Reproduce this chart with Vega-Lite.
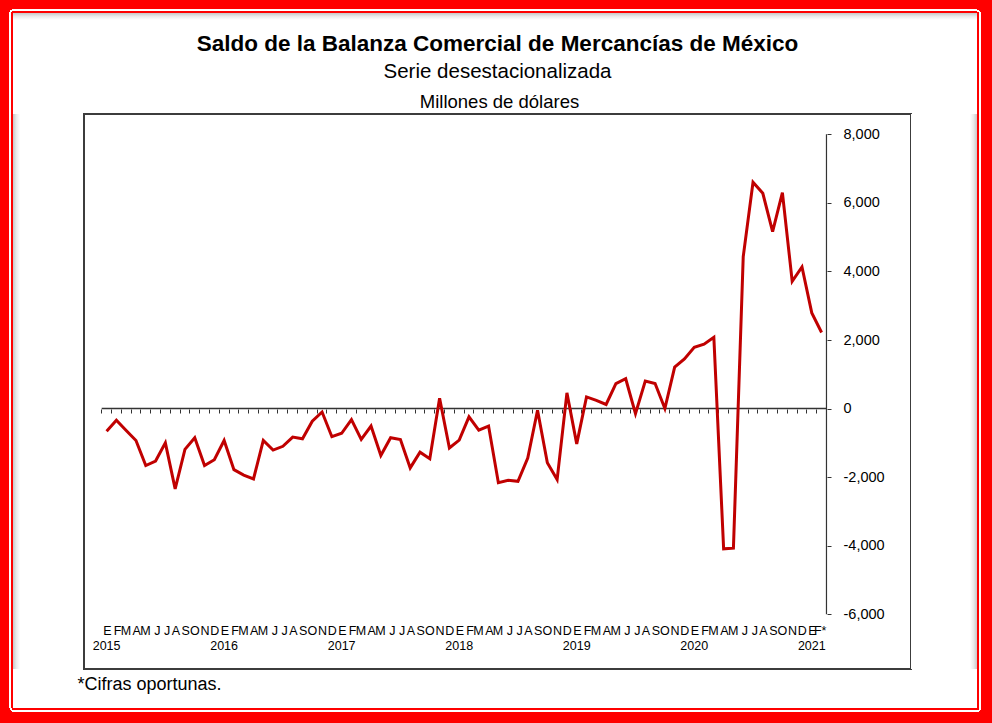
{
  "$schema": "https://vega.github.io/schema/vega-lite/v6.json",
  "background": "white",
  "padding": 0,
  "columns": 5,
  "spacing": 0,
  "bounds": "flush",
  "align": "each",
  "config": {
    "view": {"stroke": null},
    "font": "Liberation Sans"
  },
  "concat": [
    {"width": 13, "height": 13, "data": {"values": []}, "mark": "point", "view": {"stroke": null, "fill": {"gradient": "radial", "x1": 1, "y1": 1, "r1": 0, "x2": 1, "y2": 1, "r2": 1, "stops": [{"offset": 0, "color": "#ff0000"}, {"offset": 0.155, "color": "#ff0000"}, {"offset": 0.155, "color": "#ffffff"}, {"offset": 0.275, "color": "#ffffff"}, {"offset": 0.275, "color": "#ff0000"}, {"offset": 1, "color": "#ff0000"}]}}},
    {"width": 71, "height": 13, "data": {"values": []}, "mark": "point", "view": {"stroke": null, "fill": {"gradient": "linear", "x1": 0, "y1": 0, "x2": 0, "y2": 1, "stops": [{"offset": 0, "color": "#ff0000"}, {"offset": 0.72, "color": "#ff0000"}, {"offset": 0.72, "color": "#ffffff"}, {"offset": 0.84, "color": "#ffffff"}, {"offset": 0.84, "color": "#ff0000"}, {"offset": 1, "color": "#ff0000"}]}}},
    {"width": 827, "height": 13, "data": {"values": []}, "mark": "point", "view": {"stroke": null, "fill": {"gradient": "linear", "x1": 0, "y1": 0, "x2": 0, "y2": 1, "stops": [{"offset": 0, "color": "#ff0000"}, {"offset": 0.72, "color": "#ff0000"}, {"offset": 0.72, "color": "#ffffff"}, {"offset": 0.84, "color": "#ffffff"}, {"offset": 0.84, "color": "#ff0000"}, {"offset": 1, "color": "#ff0000"}]}}},
    {"width": 66, "height": 13, "data": {"values": []}, "mark": "point", "view": {"stroke": null, "fill": {"gradient": "linear", "x1": 0, "y1": 0, "x2": 0, "y2": 1, "stops": [{"offset": 0, "color": "#ff0000"}, {"offset": 0.72, "color": "#ff0000"}, {"offset": 0.72, "color": "#ffffff"}, {"offset": 0.84, "color": "#ffffff"}, {"offset": 0.84, "color": "#ff0000"}, {"offset": 1, "color": "#ff0000"}]}}},
    {"width": 15, "height": 13, "data": {"values": []}, "mark": "point", "view": {"stroke": null, "fill": {"gradient": "radial", "x1": 0, "y1": 1, "r1": 0, "x2": 0, "y2": 1, "r2": 1, "stops": [{"offset": 0, "color": "#ff0000"}, {"offset": 0.155, "color": "#ff0000"}, {"offset": 0.155, "color": "#ffffff"}, {"offset": 0.275, "color": "#ffffff"}, {"offset": 0.275, "color": "#ff0000"}, {"offset": 1, "color": "#ff0000"}]}}},

    {"width": 13, "height": 101, "data": {"values": []}, "mark": "point", "view": {"stroke": null, "fill": {"gradient": "linear", "x1": 0, "y1": 0, "x2": 1, "y2": 0, "stops": [{"offset": 0, "color": "#ff0000"}, {"offset": 0.72, "color": "#ff0000"}, {"offset": 0.72, "color": "#ffffff"}, {"offset": 0.84, "color": "#ffffff"}, {"offset": 0.84, "color": "#ff0000"}, {"offset": 1, "color": "#ff0000"}]}}},
    {"width": 71, "height": 101, "data": {"values": []}, "mark": "point", "view": {"stroke": null, "fill": {"gradient": "linear", "x1": 0, "y1": 0, "x2": 0, "y2": 1, "stops": [{"offset": 0, "color": "#c8c8c8"}, {"offset": 0.035, "color": "#ebebeb"}, {"offset": 0.07, "color": "#ffffff"}, {"offset": 1, "color": "#ffffff"}]}}},
    {"width": 827, "height": 101, "data": {"values": []}, "mark": "point", "view": {"stroke": null, "fill": {"gradient": "linear", "x1": 0, "y1": 0, "x2": 0, "y2": 1, "stops": [{"offset": 0, "color": "#c8c8c8"}, {"offset": 0.035, "color": "#ebebeb"}, {"offset": 0.07, "color": "#ffffff"}, {"offset": 1, "color": "#ffffff"}]}}},
    {"width": 66, "height": 101, "data": {"values": []}, "mark": "point", "view": {"stroke": null, "fill": {"gradient": "linear", "x1": 0, "y1": 0, "x2": 0, "y2": 1, "stops": [{"offset": 0, "color": "#c8c8c8"}, {"offset": 0.035, "color": "#ebebeb"}, {"offset": 0.07, "color": "#ffffff"}, {"offset": 1, "color": "#ffffff"}]}}},
    {"width": 15, "height": 101, "data": {"values": []}, "mark": "point", "view": {"stroke": null, "fill": {"gradient": "linear", "x1": 1, "y1": 0, "x2": 0, "y2": 0, "stops": [{"offset": 0, "color": "#ff0000"}, {"offset": 0.72, "color": "#ff0000"}, {"offset": 0.72, "color": "#ffffff"}, {"offset": 0.84, "color": "#ffffff"}, {"offset": 0.84, "color": "#ff0000"}, {"offset": 1, "color": "#ff0000"}]}}},

    {"width": 13, "height": 555, "data": {"values": []}, "mark": "point", "view": {"stroke": null, "fill": {"gradient": "linear", "x1": 0, "y1": 0, "x2": 1, "y2": 0, "stops": [{"offset": 0, "color": "#ff0000"}, {"offset": 0.72, "color": "#ff0000"}, {"offset": 0.72, "color": "#ffffff"}, {"offset": 0.84, "color": "#ffffff"}, {"offset": 0.84, "color": "#ff0000"}, {"offset": 1, "color": "#ff0000"}]}}},
    {"width": 71, "height": 555, "data": {"values": []}, "mark": "point", "view": {"stroke": null, "fill": {"gradient": "linear", "x1": 0, "y1": 0, "x2": 1, "y2": 0, "stops": [{"offset": 0, "color": "#c8c8c8"}, {"offset": 0.05, "color": "#ebebeb"}, {"offset": 0.1, "color": "#ffffff"}, {"offset": 1, "color": "#ffffff"}]}}},
    {
      "width": 827,
      "height": 555,
      "view": {"stroke": "#3c3c3c", "strokeWidth": 2, "fill": "white"},
      "title": {
        "text": "Saldo de la Balanza Comercial de Mercancías de México",
        "subtitle": "Serie desestacionalizada",
        "frame": "group",
        "anchor": "middle",
        "fontSize": 22.5,
        "fontWeight": "bold",
        "color": "black",
        "subtitleFontSize": 20.5,
        "subtitleColor": "black",
        "subtitlePadding": 6,
        "offset": 10
      },
      "layer": [
        {
          "data": {"values": [{}]},
          "mark": {"type": "rule", "color": "#333333", "strokeWidth": 1.5},
          "encoding": {
            "x": {"datum": "2015-01", "type": "ordinal", "bandPosition": 0},
            "x2": {"datum": "2021-02", "bandPosition": 1},
            "y": {"datum": 0, "type": "quantitative"}
          }
        },
        {
          "data": {"values": [{}]},
          "mark": {"type": "rule", "color": "#333333", "strokeWidth": 1.2},
          "encoding": {
            "x": {"datum": "2021-02", "type": "ordinal", "bandPosition": 1},
            "y": {"datum": -6000, "type": "quantitative"},
            "y2": {"datum": 8000}
          }
        },
        {
          "data": {
            "values": [
              {"m": "2015-01", "v": -660}, {"m": "2015-02", "v": -340}, {"m": "2015-03", "v": -640}, {"m": "2015-04", "v": -930},
              {"m": "2015-05", "v": -1660}, {"m": "2015-06", "v": -1530}, {"m": "2015-07", "v": -1000}, {"m": "2015-08", "v": -2340},
              {"m": "2015-09", "v": -1190}, {"m": "2015-10", "v": -850}, {"m": "2015-11", "v": -1660}, {"m": "2015-12", "v": -1490},
              {"m": "2016-01", "v": -930}, {"m": "2016-02", "v": -1780}, {"m": "2016-03", "v": -1940}, {"m": "2016-04", "v": -2050},
              {"m": "2016-05", "v": -930}, {"m": "2016-06", "v": -1210}, {"m": "2016-07", "v": -1100}, {"m": "2016-08", "v": -830},
              {"m": "2016-09", "v": -880}, {"m": "2016-10", "v": -370}, {"m": "2016-11", "v": -100}, {"m": "2016-12", "v": -820},
              {"m": "2017-01", "v": -720}, {"m": "2017-02", "v": -320}, {"m": "2017-03", "v": -900}, {"m": "2017-04", "v": -510},
              {"m": "2017-05", "v": -1370}, {"m": "2017-06", "v": -850}, {"m": "2017-07", "v": -900}, {"m": "2017-08", "v": -1730},
              {"m": "2017-09", "v": -1270}, {"m": "2017-10", "v": -1460}, {"m": "2017-11", "v": 300}, {"m": "2017-12", "v": -1150},
              {"m": "2018-01", "v": -920}, {"m": "2018-02", "v": -240}, {"m": "2018-03", "v": -630}, {"m": "2018-04", "v": -510},
              {"m": "2018-05", "v": -2160}, {"m": "2018-06", "v": -2090}, {"m": "2018-07", "v": -2120}, {"m": "2018-08", "v": -1440},
              {"m": "2018-09", "v": -50}, {"m": "2018-10", "v": -1580}, {"m": "2018-11", "v": -2070}, {"m": "2018-12", "v": 460},
              {"m": "2019-01", "v": -1030}, {"m": "2019-02", "v": 340}, {"m": "2019-03", "v": 240}, {"m": "2019-04", "v": 120},
              {"m": "2019-05", "v": 730}, {"m": "2019-06", "v": 870}, {"m": "2019-07", "v": -150}, {"m": "2019-08", "v": 800},
              {"m": "2019-09", "v": 730}, {"m": "2019-10", "v": 0}, {"m": "2019-11", "v": 1210}, {"m": "2019-12", "v": 1450},
              {"m": "2020-01", "v": 1790}, {"m": "2020-02", "v": 1880}, {"m": "2020-03", "v": 2080}, {"m": "2020-04", "v": -4090},
              {"m": "2020-05", "v": -4070}, {"m": "2020-06", "v": 4430}, {"m": "2020-07", "v": 6600}, {"m": "2020-08", "v": 6280},
              {"m": "2020-09", "v": 5160}, {"m": "2020-10", "v": 6300}, {"m": "2020-11", "v": 3710}, {"m": "2020-12", "v": 4130},
              {"m": "2021-01", "v": 2790}, {"m": "2021-02", "v": 2220}
            ]
          },
          "mark": {"type": "line", "color": "#c00000", "strokeWidth": 3, "strokeJoin": "miter"},
          "encoding": {
            "x": {
              "field": "m",
              "type": "ordinal",
              "scale": {
                "type": "band",
                "paddingInner": 0,
                "paddingOuter": 0.7185,
                "align": 0.5616,
                "domain": ["2014-12",
                  "2015-01", "2015-02", "2015-03", "2015-04", "2015-05", "2015-06", "2015-07", "2015-08", "2015-09", "2015-10", "2015-11", "2015-12",
                  "2016-01", "2016-02", "2016-03", "2016-04", "2016-05", "2016-06", "2016-07", "2016-08", "2016-09", "2016-10", "2016-11", "2016-12",
                  "2017-01", "2017-02", "2017-03", "2017-04", "2017-05", "2017-06", "2017-07", "2017-08", "2017-09", "2017-10", "2017-11", "2017-12",
                  "2018-01", "2018-02", "2018-03", "2018-04", "2018-05", "2018-06", "2018-07", "2018-08", "2018-09", "2018-10", "2018-11", "2018-12",
                  "2019-01", "2019-02", "2019-03", "2019-04", "2019-05", "2019-06", "2019-07", "2019-08", "2019-09", "2019-10", "2019-11", "2019-12",
                  "2020-01", "2020-02", "2020-03", "2020-04", "2020-05", "2020-06", "2020-07", "2020-08", "2020-09", "2020-10", "2020-11", "2020-12",
                  "2021-01", "2021-02",
                  "2021-03", "2021-04", "2021-05", "2021-06", "2021-07", "2021-08", "2021-09", "2021-10"]
              },
              "axis": {
                "orient": "bottom",
                "offset": -260,
                "domain": false,
                "grid": false,
                "ticks": true,
                "bandPosition": 0,
                "values": [
                  "2015-01", "2015-02", "2015-03", "2015-04", "2015-05", "2015-06", "2015-07", "2015-08", "2015-09", "2015-10", "2015-11", "2015-12",
                  "2016-01", "2016-02", "2016-03", "2016-04", "2016-05", "2016-06", "2016-07", "2016-08", "2016-09", "2016-10", "2016-11", "2016-12",
                  "2017-01", "2017-02", "2017-03", "2017-04", "2017-05", "2017-06", "2017-07", "2017-08", "2017-09", "2017-10", "2017-11", "2017-12",
                  "2018-01", "2018-02", "2018-03", "2018-04", "2018-05", "2018-06", "2018-07", "2018-08", "2018-09", "2018-10", "2018-11", "2018-12",
                  "2019-01", "2019-02", "2019-03", "2019-04", "2019-05", "2019-06", "2019-07", "2019-08", "2019-09", "2019-10", "2019-11", "2019-12",
                  "2020-01", "2020-02", "2020-03", "2020-04", "2020-05", "2020-06", "2020-07", "2020-08", "2020-09", "2020-10", "2020-11", "2020-12",
                  "2021-01", "2021-02"],
                "tickSize": 4,
                "tickColor": "#333333",
                "tickWidth": 1,
                "labelAngle": 0,
                "labelOverlap": false,
                "labelOffset": 4.9,
                "labelPadding": 211,
                "labelFontSize": 12.5,
                "labelColor": "black",
                "labelBaseline": "top",
                "labelExpr": "datum.value == '2021-02' ? 'F*' : substring('EFMAMJJASOND', toNumber(substring(datum.value, 5, 7)) - 1, toNumber(substring(datum.value, 5, 7)))",
                "title": "*Cifras oportunas.",
                "titleFontSize": 18,
                "titleFontWeight": "normal",
                "titleColor": "black",
                "titleAlign": "left",
                "titleBaseline": "alphabetic",
                "titleX": -7,
                "titleY": 280.5
              }
            },
            "y": {
              "field": "v",
              "type": "quantitative",
              "scale": {"domain": [-7595, 8592], "nice": false, "zero": false},
              "axis": {
                "orient": "right",
                "offset": -84,
                "domain": false,
                "grid": false,
                "values": [-6000, -4000, -2000, 0, 2000, 4000, 6000, 8000],
                "format": ",.0f",
                "labelExpr": "replace(datum.label, '\u2212', '-')",
                "tickSize": 4,
                "tickColor": "#333333",
                "labelPadding": 12,
                "labelFontSize": 14.5,
                "labelColor": "black",
                "labelAlign": "left",
                "labelBaseline": "middle",
                "title": "Millones de dólares",
                "titleAngle": 0,
                "titleFontSize": 18.5,
                "titleFontWeight": "normal",
                "titleColor": "black",
                "titleAlign": "center",
                "titleBaseline": "alphabetic",
                "titleX": -328,
                "titleY": -7
              }
            }
          }
        },
        {
          "data": {
            "values": [
              {"m": "2015-01", "year": "2015"}, {"m": "2016-01", "year": "2016"}, {"m": "2017-01", "year": "2017"},
              {"m": "2018-01", "year": "2018"}, {"m": "2019-01", "year": "2019"}, {"m": "2020-01", "year": "2020"},
              {"m": "2021-01", "year": "2021"}
            ]
          },
          "mark": {"type": "text", "fontSize": 12.5, "color": "black", "baseline": "alphabetic", "align": "center"},
          "encoding": {
            "x": {"field": "m", "type": "ordinal"},
            "y": {"datum": -7041, "type": "quantitative"},
            "text": {"field": "year"}
          }
        }
      ]
    },
    {"width": 66, "height": 555, "data": {"values": []}, "mark": "point", "view": {"stroke": null, "fill": {"gradient": "linear", "x1": 1, "y1": 0, "x2": 0, "y2": 0, "stops": [{"offset": 0, "color": "#c8c8c8"}, {"offset": 0.053, "color": "#ebebeb"}, {"offset": 0.106, "color": "#ffffff"}, {"offset": 1, "color": "#ffffff"}]}}},
    {"width": 15, "height": 555, "data": {"values": []}, "mark": "point", "view": {"stroke": null, "fill": {"gradient": "linear", "x1": 1, "y1": 0, "x2": 0, "y2": 0, "stops": [{"offset": 0, "color": "#ff0000"}, {"offset": 0.72, "color": "#ff0000"}, {"offset": 0.72, "color": "#ffffff"}, {"offset": 0.84, "color": "#ffffff"}, {"offset": 0.84, "color": "#ff0000"}, {"offset": 1, "color": "#ff0000"}]}}},

    {"width": 13, "height": 39, "data": {"values": []}, "mark": "point", "view": {"stroke": null, "fill": {"gradient": "linear", "x1": 0, "y1": 0, "x2": 1, "y2": 0, "stops": [{"offset": 0, "color": "#ff0000"}, {"offset": 0.72, "color": "#ff0000"}, {"offset": 0.72, "color": "#ffffff"}, {"offset": 0.84, "color": "#ffffff"}, {"offset": 0.84, "color": "#ff0000"}, {"offset": 1, "color": "#ff0000"}]}}},
    {"width": 71, "height": 39, "data": {"values": []}, "mark": "point"},
    {"width": 827, "height": 39, "data": {"values": []}, "mark": "point"},
    {"width": 66, "height": 39, "data": {"values": []}, "mark": "point"},
    {"width": 15, "height": 39, "data": {"values": []}, "mark": "point", "view": {"stroke": null, "fill": {"gradient": "linear", "x1": 1, "y1": 0, "x2": 0, "y2": 0, "stops": [{"offset": 0, "color": "#ff0000"}, {"offset": 0.72, "color": "#ff0000"}, {"offset": 0.72, "color": "#ffffff"}, {"offset": 0.84, "color": "#ffffff"}, {"offset": 0.84, "color": "#ff0000"}, {"offset": 1, "color": "#ff0000"}]}}},

    {"width": 13, "height": 15, "data": {"values": []}, "mark": "point", "view": {"stroke": null, "fill": {"gradient": "radial", "x1": 1, "y1": 0, "r1": 0, "x2": 1, "y2": 0, "r2": 1, "stops": [{"offset": 0, "color": "#ff0000"}, {"offset": 0.155, "color": "#ff0000"}, {"offset": 0.155, "color": "#ffffff"}, {"offset": 0.275, "color": "#ffffff"}, {"offset": 0.275, "color": "#ff0000"}, {"offset": 1, "color": "#ff0000"}]}}},
    {"width": 71, "height": 15, "data": {"values": []}, "mark": "point", "view": {"stroke": null, "fill": {"gradient": "linear", "x1": 0, "y1": 1, "x2": 0, "y2": 0, "stops": [{"offset": 0, "color": "#ff0000"}, {"offset": 0.72, "color": "#ff0000"}, {"offset": 0.72, "color": "#ffffff"}, {"offset": 0.84, "color": "#ffffff"}, {"offset": 0.84, "color": "#ff0000"}, {"offset": 1, "color": "#ff0000"}]}}},
    {"width": 827, "height": 15, "data": {"values": []}, "mark": "point", "view": {"stroke": null, "fill": {"gradient": "linear", "x1": 0, "y1": 1, "x2": 0, "y2": 0, "stops": [{"offset": 0, "color": "#ff0000"}, {"offset": 0.72, "color": "#ff0000"}, {"offset": 0.72, "color": "#ffffff"}, {"offset": 0.84, "color": "#ffffff"}, {"offset": 0.84, "color": "#ff0000"}, {"offset": 1, "color": "#ff0000"}]}}},
    {"width": 66, "height": 15, "data": {"values": []}, "mark": "point", "view": {"stroke": null, "fill": {"gradient": "linear", "x1": 0, "y1": 1, "x2": 0, "y2": 0, "stops": [{"offset": 0, "color": "#ff0000"}, {"offset": 0.72, "color": "#ff0000"}, {"offset": 0.72, "color": "#ffffff"}, {"offset": 0.84, "color": "#ffffff"}, {"offset": 0.84, "color": "#ff0000"}, {"offset": 1, "color": "#ff0000"}]}}},
    {"width": 15, "height": 15, "data": {"values": []}, "mark": "point", "view": {"stroke": null, "fill": {"gradient": "radial", "x1": 0, "y1": 0, "r1": 0, "x2": 0, "y2": 0, "r2": 1, "stops": [{"offset": 0, "color": "#ff0000"}, {"offset": 0.155, "color": "#ff0000"}, {"offset": 0.155, "color": "#ffffff"}, {"offset": 0.275, "color": "#ffffff"}, {"offset": 0.275, "color": "#ff0000"}, {"offset": 1, "color": "#ff0000"}]}}}
  ]
}
